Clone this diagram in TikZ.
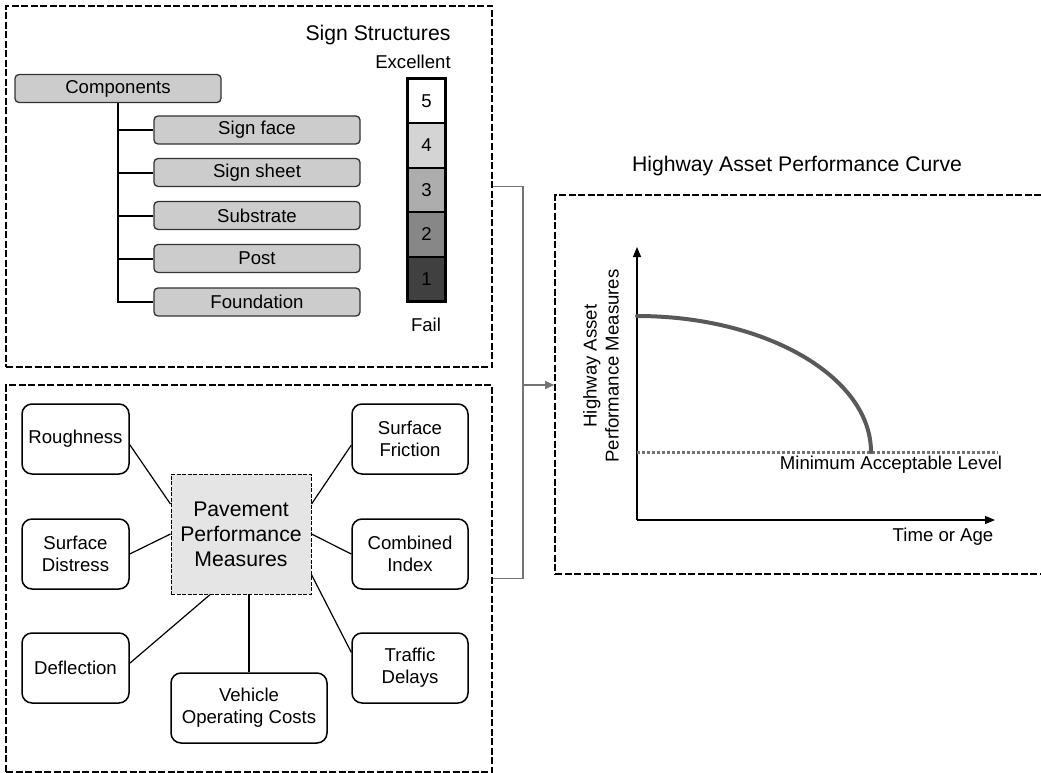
\documentclass[tikz,border=0pt]{standalone}
\usepackage{fontspec}
\setmainfont{Liberation Sans}
\usetikzlibrary{arrows.meta}

\tikzset{
  panel/.style={draw,line width=1.6pt,dash pattern=on 7pt off 2.5pt,inner sep=0pt},
  partbox/.style={draw=black!80,fill=black!20,line width=1.3pt,rounded corners=4pt,
    minimum width=206pt,minimum height=28pt,inner sep=0pt,font=\fontsize{18.6}{21}\selectfont},
  rating/.style={draw,line width=1.6pt,minimum width=37pt,minimum height=44.4pt,inner sep=0pt,
    font=\fontsize{18.6}{21}\selectfont},
  measure/.style={draw,line width=1.5pt,rounded corners=10pt,fill=white,align=center,
    minimum height=70pt,inner sep=0pt,font=\fontsize{18.6}{22}\selectfont},
  hub/.style={draw,fill=black!10,line width=1pt,dash pattern=on 4pt off 1.5pt,
    minimum width=140pt,minimum height=120pt,align=center,font=\fontsize{21.2}{25}\selectfont},
  txt/.style={font=\fontsize{18.6}{22}\selectfont,inner sep=0pt},
  heading/.style={font=\fontsize{21.2}{25}\selectfont,inner sep=0pt},
  link/.style={line width=1.2pt},
  trunk/.style={line width=2pt},
  feed/.style={draw=black!55,line width=1.2pt},
  axis/.style={line width=1.2pt,-{Triangle[length=10pt,width=8pt]}}
}

\begin{document}
\begin{tikzpicture}[x=1pt,y=-1pt]
\useasboundingbox (0,0) rectangle (1041,773);

% panels
\node[panel,minimum width=486pt,minimum height=361pt] (signpanel) at (249,186.5) {};
\node[panel,minimum width=486pt,minimum height=387pt] (pavepanel) at (249,578.5) {};
\node[panel,minimum width=500pt,minimum height=379pt] (curvepanel) at (805,384.5) {};

% sign structures
\node[heading] (signtitle) at (378,35) {Sign Structures};
\node[txt] (excellent) at (413,62) {Excellent};
\node[partbox] (comp) at (118,88.5) {Components};
\node[partbox] (face) at (257,130) {Sign face};
\node[partbox] (sheet) at (257,172.5) {Sign sheet};
\node[partbox] (substrate) at (257,215.5) {Substrate};
\node[partbox] (post) at (257,258.5) {Post};
\node[partbox] (foundation) at (257,302) {Foundation};
\draw[trunk] (comp.south) -- (comp.south |- foundation.west) -- (foundation.west)
  (comp.south |- face.west) -- (face.west)
  (comp.south |- sheet.west) -- (sheet.west)
  (comp.south |- substrate.west) -- (substrate.west)
  (comp.south |- post.west) -- (post.west);

\node[rating,fill=white] (r5) at (426.5,101) {5};
\node[rating,fill=black!17] (r4) at (426.5,145.5) {4};
\node[rating,fill=black!32] (r3) at (426.5,190) {3};
\node[rating,fill=black!47] (r2) at (426.5,234.5) {2};
\node[rating,fill=black!75] (r1) at (426.5,279) {1};
\draw[line width=2.4pt] (r5.north west) rectangle (r1.south east);
\node[txt] (fail) at (426,325) {Fail};

% pavement measures
\node[hub] (pave) at (241,534) {Pavement\\Performance\\Measures};
\node[measure,minimum width=107pt] (rough) at (75.5,439) {Roughness};
\node[measure,minimum width=107pt] (distress) at (75.5,554) {Surface\\Distress};
\node[measure,minimum width=107pt] (deflect) at (75.5,668) {Deflection};
\node[measure,minimum width=116pt] (friction) at (410,439) {Surface\\Friction};
\node[measure,minimum width=116pt] (combined) at (410,554) {Combined\\Index};
\node[measure,minimum width=116pt] (traffic) at (410,668) {Traffic\\Delays};
\node[measure,minimum width=156pt] (vehicle) at (249,708) {Vehicle\\Operating Costs};
\draw[link] (rough.-6) -- (pave.157);
\draw[link] (distress.east) -- (pave.west);
\draw[link] (deflect.5) -- (pave.243);
\draw[link] (pave.south -| vehicle.north) -- (vehicle.north);
\draw[link] (friction.186) -- (pave.23);
\draw[link] (combined.west) -- (pave.east);
\draw[link] (traffic.165) -- (pave.-30);

% bracket into the curve
\coordinate (fork) at (523,385);
\draw[feed] (signpanel.east) -| (fork) |- (pavepanel.east);
\draw[feed,-{Triangle[length=9pt,width=8pt]}] (fork) -- (fork -| curvepanel.west);

% performance curve
\node[heading] (curvetitle) at (797,166) {Highway Asset Performance Curve};
\coordinate (origin) at (637,520);
\draw[axis] (origin) -- (637,247);
\draw[axis] (origin) -- (995,520);
\node[txt,rotate=90,align=center] (ylab) at (601,366) {Highway Asset\\Performance Measures};
\node[txt] (tlab) at (943,537) {Time or Age};
\draw[draw=black!55,line width=3pt,dash pattern=on 3pt off 2pt] (637,452) -- (998,452);
\node[txt] (minlab) at (891,465) {Minimum Acceptable Level};
\draw[draw=black!65,line width=4pt,line cap=round] (637,316) .. controls (766,316) and (871,377) .. (871,452);
\end{tikzpicture}
\end{document}
